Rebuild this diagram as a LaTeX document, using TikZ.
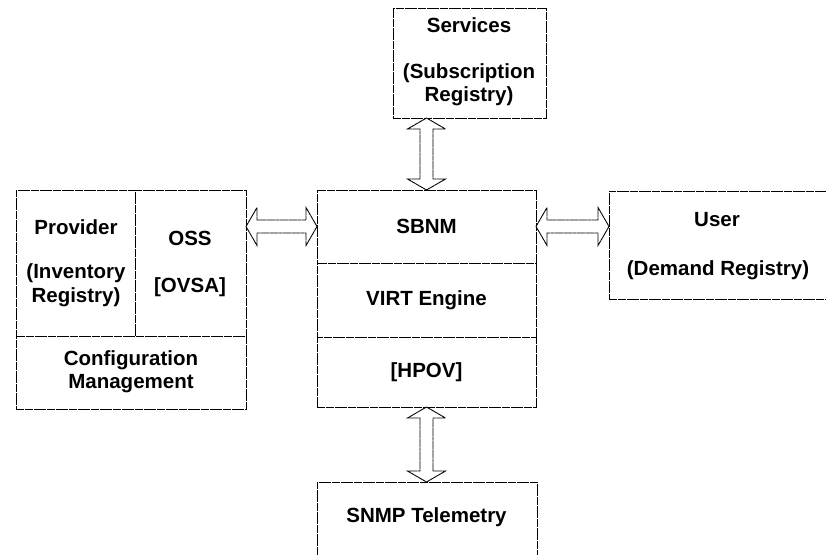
\documentclass[tikz,border=0pt]{standalone}
\usepackage{fontspec}
\setmainfont{Liberation Sans}
\usetikzlibrary{calc}
\tikzset{
  boxline/.style={draw=black, line width=0.9pt, dash pattern=on 4pt off 0.4pt},
  box/.style={boxline, rectangle, inner sep=0pt, outer sep=0pt, fill=white},
  lbl/.style={font=\fontsize{20.5}{23.5}\selectfont\bfseries, align=center, inner sep=0pt, text=black},
  dbl/.style={boxline, fill=white, line join=miter}
}
\newcommand{\dblarrowV}[2]{%
  \path[dbl] let \p1=(#1), \p2=(#2) in
    (\x1,\y1) -- (\x1+19pt,\y1-11pt) -- (\x1+6.5pt,\y1-11pt) -- (\x1+6.5pt,\y2+11pt)
    -- (\x1+19pt,\y2+11pt) -- (\x1,\y2) -- (\x1-19pt,\y2+11pt) -- (\x1-6.5pt,\y2+11pt)
    -- (\x1-6.5pt,\y1-11pt) -- (\x1-19pt,\y1-11pt) -- cycle;}
\newcommand{\dblarrowH}[2]{%
  \path[dbl] let \p1=(#1), \p2=(#2) in
    (\x1,\y1) -- (\x1+11pt,\y1+19pt) -- (\x1+11pt,\y1+6.5pt) -- (\x2-11pt,\y1+6.5pt)
    -- (\x2-11pt,\y1+19pt) -- (\x2,\y1) -- (\x2-11pt,\y1-19pt) -- (\x2-11pt,\y1-6.5pt)
    -- (\x1+11pt,\y1-6.5pt) -- (\x1+11pt,\y1-19pt) -- cycle;}
\begin{document}
\begin{tikzpicture}[x=1pt,y=1pt]
\useasboundingbox (0,0) rectangle (826,-554);
\fill[white] (0,0) rectangle (826,-554);
\clip (0,0) rectangle (826,-554);

% boxes
\node[box, minimum width=153pt, minimum height=110pt] (serv) at (469.5,-63) {};
\node[box, minimum width=219pt, minimum height=73pt] (sbnm) at (426.5,-226.5) {};
\node[box, minimum width=219pt, minimum height=74pt] (virt) at (426.5,-300) {};
\node[box, minimum width=219pt, minimum height=70pt] (hpov) at (426.5,-372) {};
\node[box, minimum width=119pt, minimum height=146pt] (prov) at (75.5,-263) {};
\node[box, minimum width=111pt, minimum height=146pt] (oss) at (190.5,-263) {};
\node[box, minimum width=230pt, minimum height=73pt] (conf) at (131,-372.5) {};
\node[box, anchor=north west, minimum width=240pt, minimum height=108pt] (user) at (609,-191) {};
\node[box, anchor=north, minimum width=220pt, minimum height=120pt] (snmp) at (427,-482) {};

% labels
\node[lbl] (tserv) at (469,-25) {Services};
\node[lbl] (tsub) at (469,-84.5) {(Subscription\\Registry)};
\node[lbl] (tsbnm) at (426.5,-226) {SBNM};
\node[lbl] (tvirt) at (426.5,-300) {VIRT Engine};
\node[lbl] (thpov) at (426.5,-372) {[HPOV]};
\node[lbl] (tprov) at (76,-227) {Provider};
\node[lbl] (tinv) at (76,-285) {(Inventory\\Registry)};
\node[lbl] (toss) at (190,-238) {OSS};
\node[lbl] (tovsa) at (190,-287) {[OVSA]};
\node[lbl] (tconf) at (131,-371.5) {Configuration\\Management};
\node[lbl] (tuser) at (717,-220) {User};
\node[lbl] (tdem) at (718,-270) {(Demand Registry)};
\node[lbl] (tsnmp) at (426.5,-517) {SNMP Telemetry};

% connectors
\dblarrowV{sbnm.north |- serv.south}{sbnm.north}
\dblarrowV{hpov.south}{snmp.north}
\dblarrowH{oss.east |- sbnm.west}{sbnm.west}
\dblarrowH{sbnm.east}{user.west |- sbnm.east}
\end{tikzpicture}
\end{document}
